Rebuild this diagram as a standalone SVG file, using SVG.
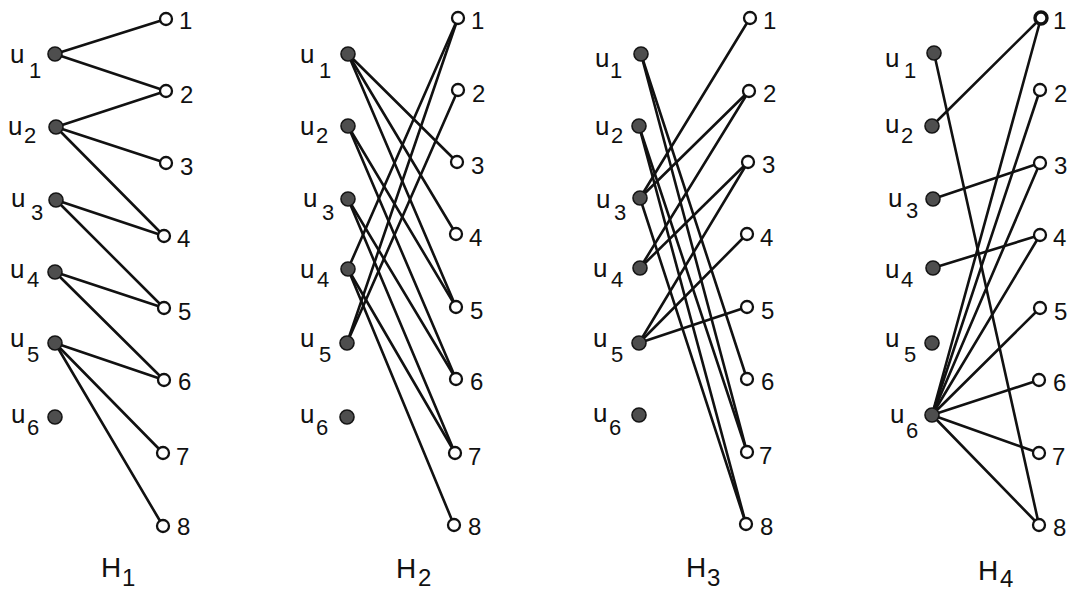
<svg xmlns="http://www.w3.org/2000/svg" width="1071" height="592" viewBox="0 0 1071 592">
<style>
  .e { stroke: #111; stroke-width: 2.6; fill: none; stroke-linecap: round; }
  .f { fill: #4e4e4e; stroke: #151515; stroke-width: 1.6; }
  .o { fill: #fff; stroke: #111; stroke-width: 2.3; }
  .ob { fill: #fff; stroke: #111; stroke-width: 3.4; }
  text { font-family: "Liberation Sans", Arial, Helvetica, sans-serif; fill: #111; }
  .u { font-size: 26px; }
  .s { font-size: 22px; }
  .n { font-size: 24px; }
  .h { font-size: 28px; }
  .hs { font-size: 24px; }
</style>
<rect width="1071" height="592" fill="#fff"/>

<!-- ================= H1 ================= -->
<g id="H1">
  <g id="H1-edges">
    <line class="e" x1="55" y1="54" x2="166" y2="19"/>
    <line class="e" x1="55" y1="54" x2="166" y2="91"/>
    <line class="e" x1="56" y1="127" x2="166" y2="91"/>
    <line class="e" x1="56" y1="127" x2="166" y2="163"/>
    <line class="e" x1="56" y1="127" x2="164" y2="236"/>
    <line class="e" x1="56" y1="200" x2="164" y2="236"/>
    <line class="e" x1="56" y1="200" x2="164" y2="308"/>
    <line class="e" x1="55" y1="272" x2="164" y2="308"/>
    <line class="e" x1="55" y1="272" x2="164" y2="380"/>
    <line class="e" x1="55" y1="343" x2="164" y2="380"/>
    <line class="e" x1="55" y1="343" x2="163" y2="453"/>
    <line class="e" x1="55" y1="343" x2="163" y2="526"/>
  </g>
  <g id="H1-u1"><circle class="f" cx="55" cy="54" r="7"/><text class="u" x="10" y="63">u</text><text class="s" x="29" y="78">1</text></g>
  <g id="H1-u2"><circle class="f" cx="56" cy="127" r="7"/><text class="u" x="8" y="135">u</text><text class="s" x="24" y="143">2</text></g>
  <g id="H1-u3"><circle class="f" cx="56" cy="200" r="7"/><text class="u" x="11" y="207">u</text><text class="s" x="31" y="220">3</text></g>
  <g id="H1-u4"><circle class="f" cx="55" cy="272" r="7"/><text class="u" x="10" y="278">u</text><text class="s" x="27" y="287">4</text></g>
  <g id="H1-u5"><circle class="f" cx="55" cy="343" r="7"/><text class="u" x="10" y="347">u</text><text class="s" x="27" y="362">5</text></g>
  <g id="H1-u6"><circle class="f" cx="55" cy="417" r="7"/><text class="u" x="11" y="423">u</text><text class="s" x="27" y="435">6</text></g>
  <g id="H1-v1"><circle class="o" cx="166" cy="19" r="6"/><text class="n" x="179" y="29">1</text></g>
  <g id="H1-v2"><circle class="o" cx="166" cy="91" r="6"/><text class="n" x="180" y="103">2</text></g>
  <g id="H1-v3"><circle class="o" cx="166" cy="163" r="6"/><text class="n" x="180" y="175">3</text></g>
  <g id="H1-v4"><circle class="o" cx="164" cy="236" r="6"/><text class="n" x="177" y="247">4</text></g>
  <g id="H1-v5"><circle class="o" cx="164" cy="308" r="6"/><text class="n" x="178" y="320">5</text></g>
  <g id="H1-v6"><circle class="o" cx="164" cy="380" r="6"/><text class="n" x="178" y="390">6</text></g>
  <g id="H1-v7"><circle class="o" cx="163" cy="453" r="6"/><text class="n" x="176" y="465">7</text></g>
  <g id="H1-v8"><circle class="o" cx="163" cy="526" r="6"/><text class="n" x="177" y="535">8</text></g>
  <g id="H1-title"><text class="h" x="101" y="577">H</text><text class="hs" x="122" y="586">1</text></g>
</g>

<!-- ================= H2 ================= -->
<g id="H2">
  <g id="H2-edges">
    <line class="e" x1="348" y1="54" x2="457" y2="162"/>
    <line class="e" x1="348" y1="54" x2="456" y2="234"/>
    <line class="e" x1="348" y1="54" x2="456" y2="307"/>
    <line class="e" x1="348" y1="126" x2="456" y2="307"/>
    <line class="e" x1="348" y1="126" x2="456" y2="379"/>
    <line class="e" x1="348" y1="199" x2="456" y2="379"/>
    <line class="e" x1="348" y1="199" x2="455" y2="453"/>
    <line class="e" x1="348" y1="269" x2="458" y2="18"/>
    <line class="e" x1="348" y1="269" x2="455" y2="453"/>
    <line class="e" x1="348" y1="269" x2="454" y2="525"/>
    <line class="e" x1="347" y1="343" x2="458" y2="18"/>
    <line class="e" x1="347" y1="343" x2="458" y2="90"/>
  </g>
  <g id="H2-u1"><circle class="f" cx="348" cy="54" r="7"/><text class="u" x="300" y="63">u</text><text class="s" x="319" y="78">1</text></g>
  <g id="H2-u2"><circle class="f" cx="348" cy="126" r="7"/><text class="u" x="300" y="135">u</text><text class="s" x="316" y="143">2</text></g>
  <g id="H2-u3"><circle class="f" cx="348" cy="199" r="7"/><text class="u" x="303" y="207">u</text><text class="s" x="322" y="220">3</text></g>
  <g id="H2-u4"><circle class="f" cx="348" cy="269" r="7"/><text class="u" x="300" y="278">u</text><text class="s" x="317" y="287">4</text></g>
  <g id="H2-u5"><circle class="f" cx="347" cy="343" r="7"/><text class="u" x="300" y="347">u</text><text class="s" x="319" y="362">5</text></g>
  <g id="H2-u6"><circle class="f" cx="347" cy="417" r="7"/><text class="u" x="300" y="423">u</text><text class="s" x="316" y="435">6</text></g>
  <g id="H2-v1"><circle class="o" cx="458" cy="18" r="6"/><text class="n" x="471" y="29">1</text></g>
  <g id="H2-v2"><circle class="o" cx="458" cy="90" r="6"/><text class="n" x="472" y="102">2</text></g>
  <g id="H2-v3"><circle class="o" cx="457" cy="162" r="6"/><text class="n" x="471" y="174">3</text></g>
  <g id="H2-v4"><circle class="o" cx="456" cy="234" r="6"/><text class="n" x="469" y="246">4</text></g>
  <g id="H2-v5"><circle class="o" cx="456" cy="307" r="6"/><text class="n" x="470" y="319">5</text></g>
  <g id="H2-v6"><circle class="o" cx="456" cy="379" r="6"/><text class="n" x="470" y="390">6</text></g>
  <g id="H2-v7"><circle class="o" cx="455" cy="453" r="6"/><text class="n" x="468" y="465">7</text></g>
  <g id="H2-v8"><circle class="o" cx="454" cy="525" r="6"/><text class="n" x="468" y="535">8</text></g>
  <g id="H2-title"><text class="h" x="396" y="578">H</text><text class="hs" x="418" y="586">2</text></g>
</g>

<!-- ================= H3 ================= -->
<g id="H3">
  <g id="H3-edges">
    <line class="e" x1="641" y1="54" x2="747" y2="379"/>
    <line class="e" x1="641" y1="54" x2="747" y2="452"/>
    <line class="e" x1="639" y1="126" x2="747" y2="452"/>
    <line class="e" x1="639" y1="126" x2="746" y2="524"/>
    <line class="e" x1="640" y1="198" x2="750" y2="18"/>
    <line class="e" x1="640" y1="198" x2="749" y2="91"/>
    <line class="e" x1="640" y1="198" x2="746" y2="524"/>
    <line class="e" x1="640" y1="268" x2="749" y2="91"/>
    <line class="e" x1="640" y1="268" x2="748" y2="162"/>
    <line class="e" x1="639" y1="343" x2="748" y2="162"/>
    <line class="e" x1="639" y1="343" x2="747" y2="234"/>
    <line class="e" x1="639" y1="343" x2="747" y2="307"/>
  </g>
  <g id="H3-u1"><circle class="f" cx="641" cy="54" r="7"/><text class="u" x="595" y="67">u</text><text class="s" x="610" y="78">1</text></g>
  <g id="H3-u2"><circle class="f" cx="639" cy="126" r="7"/><text class="u" x="595" y="135">u</text><text class="s" x="611" y="143">2</text></g>
  <g id="H3-u3"><circle class="f" cx="640" cy="198" r="7"/><text class="u" x="596" y="208">u</text><text class="s" x="614" y="220">3</text></g>
  <g id="H3-u4"><circle class="f" cx="640" cy="268" r="7"/><text class="u" x="593" y="277">u</text><text class="s" x="611" y="287">4</text></g>
  <g id="H3-u5"><circle class="f" cx="639" cy="343" r="7"/><text class="u" x="593" y="347">u</text><text class="s" x="611" y="362">5</text></g>
  <g id="H3-u6"><circle class="f" cx="639" cy="415" r="7"/><text class="u" x="593" y="422">u</text><text class="s" x="609" y="435">6</text></g>
  <g id="H3-v1"><circle class="o" cx="750" cy="18" r="6"/><text class="n" x="763" y="29">1</text></g>
  <g id="H3-v2"><circle class="o" cx="749" cy="91" r="6"/><text class="n" x="763" y="102">2</text></g>
  <g id="H3-v3"><circle class="o" cx="748" cy="162" r="6"/><text class="n" x="762" y="173">3</text></g>
  <g id="H3-v4"><circle class="o" cx="747" cy="234" r="6"/><text class="n" x="760" y="246">4</text></g>
  <g id="H3-v5"><circle class="o" cx="747" cy="307" r="6"/><text class="n" x="761" y="319">5</text></g>
  <g id="H3-v6"><circle class="o" cx="747" cy="379" r="6"/><text class="n" x="761" y="390">6</text></g>
  <g id="H3-v7"><circle class="o" cx="747" cy="452" r="6"/><text class="n" x="759" y="464">7</text></g>
  <g id="H3-v8"><circle class="o" cx="746" cy="524" r="6"/><text class="n" x="760" y="535">8</text></g>
  <g id="H3-title"><text class="h" x="686" y="577">H</text><text class="hs" x="707" y="586">3</text></g>
</g>

<!-- ================= H4 ================= -->
<g id="H4">
  <g id="H4-edges">
    <line class="e" x1="934" y1="53" x2="1039" y2="525"/>
    <line class="e" x1="932" y1="126" x2="1041" y2="18"/>
    <line class="e" x1="933" y1="199" x2="1040" y2="163"/>
    <line class="e" x1="933" y1="268" x2="1040" y2="235"/>
    <line class="e" x1="932" y1="415" x2="1041" y2="18"/>
    <line class="e" x1="932" y1="415" x2="1040" y2="90"/>
    <line class="e" x1="932" y1="415" x2="1040" y2="163"/>
    <line class="e" x1="932" y1="415" x2="1040" y2="235"/>
    <line class="e" x1="932" y1="415" x2="1040" y2="308"/>
    <line class="e" x1="932" y1="415" x2="1039" y2="380"/>
    <line class="e" x1="932" y1="415" x2="1039" y2="453"/>
    <line class="e" x1="932" y1="415" x2="1039" y2="525"/>
  </g>
  <g id="H4-u1"><circle class="f" cx="934" cy="53" r="7"/><text class="u" x="885" y="67">u</text><text class="s" x="904" y="78">1</text></g>
  <g id="H4-u2"><circle class="f" cx="932" cy="126" r="7"/><text class="u" x="885" y="133">u</text><text class="s" x="901" y="143">2</text></g>
  <g id="H4-u3"><circle class="f" cx="933" cy="199" r="7"/><text class="u" x="888" y="207">u</text><text class="s" x="906" y="218">3</text></g>
  <g id="H4-u4"><circle class="f" cx="933" cy="268" r="7"/><text class="u" x="885" y="278">u</text><text class="s" x="901" y="287">4</text></g>
  <g id="H4-u5"><circle class="f" cx="932" cy="343" r="7"/><text class="u" x="885" y="347">u</text><text class="s" x="904" y="362">5</text></g>
  <g id="H4-u6"><circle class="f" cx="932" cy="415" r="7"/><text class="u" x="890" y="423">u</text><text class="s" x="906" y="438">6</text></g>
  <g id="H4-v1"><circle class="ob" cx="1041" cy="18" r="6"/><text class="n" x="1053" y="29">1</text></g>
  <g id="H4-v2"><circle class="o" cx="1040" cy="90" r="6"/><text class="n" x="1054" y="102">2</text></g>
  <g id="H4-v3"><circle class="o" cx="1040" cy="163" r="6"/><text class="n" x="1054" y="174">3</text></g>
  <g id="H4-v4"><circle class="o" cx="1040" cy="235" r="6"/><text class="n" x="1053" y="246">4</text></g>
  <g id="H4-v5"><circle class="o" cx="1040" cy="308" r="6"/><text class="n" x="1054" y="320">5</text></g>
  <g id="H4-v6"><circle class="o" cx="1039" cy="380" r="6"/><text class="n" x="1053" y="391">6</text></g>
  <g id="H4-v7"><circle class="o" cx="1039" cy="453" r="6"/><text class="n" x="1052" y="465">7</text></g>
  <g id="H4-v8"><circle class="o" cx="1039" cy="525" r="6"/><text class="n" x="1053" y="536">8</text></g>
  <g id="H4-title"><text class="h" x="978" y="580">H</text><text class="hs" x="1000" y="587">4</text></g>
</g>
</svg>
